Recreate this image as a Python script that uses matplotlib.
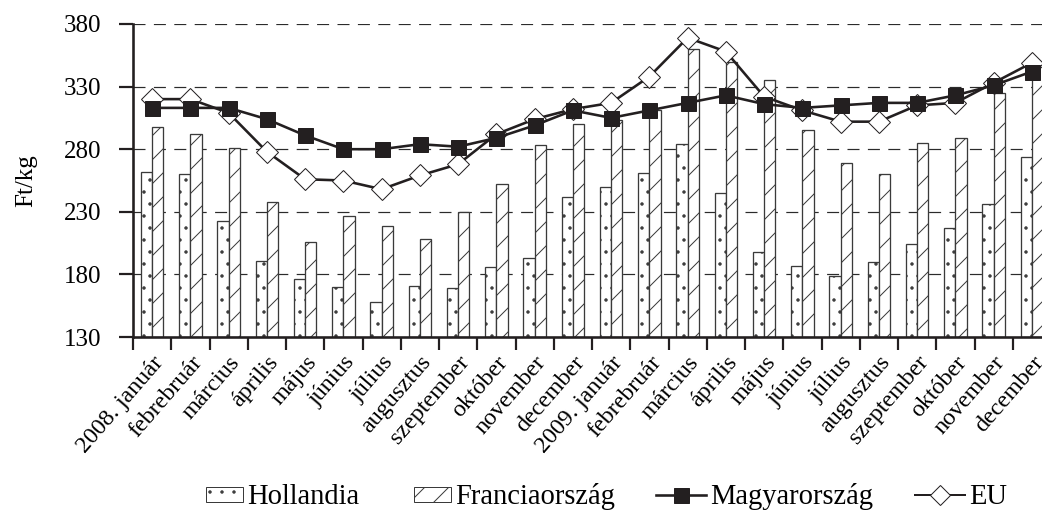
import matplotlib
matplotlib.use("Agg")
import matplotlib.pyplot as plt
import numpy as np
from matplotlib.patches import Patch, Rectangle
from matplotlib.lines import Line2D
from matplotlib.legend_handler import HandlerPatch
from matplotlib.transforms import ScaledTranslation

plt.rcParams['font.family'] = ['Liberation Serif', 'DejaVu Serif']
plt.rcParams['hatch.linewidth'] = 1.0

months = ["2008. január", "febrebruár", "március", "április", "május", "június",
          "július", "augusztus", "szeptember", "október", "november", "december",
          "2009. január", "febrebruár", "március", "április", "május", "június",
          "július", "augusztus", "szeptember", "október", "november", "december"]

hollandia = [262, 260, 223, 191, 176, 170, 158, 171, 169, 186, 193, 242,
             250, 261, 284, 245, 198, 187, 179, 190, 204, 217, 236, 274]
francia = [298, 292, 281, 238, 206, 227, 219, 208, 230, 252, 283, 300,
           303, 311, 360, 350, 335, 295, 269, 260, 285, 289, 325, 346]
magyar = [313, 313, 313, 304, 291, 280, 280, 284, 282, 289, 299, 311,
          305, 311, 317, 323, 316, 313, 315, 317, 317, 323, 331, 342]
eu = [320, 320, 309, 278, 256, 255, 248, 259, 268, 292, 304, 312,
      317, 338, 369, 358, 322, 311, 302, 302, 315, 317, 333, 349]

yticks = [130, 180, 230, 280, 330, 380]

DPI = 72
fig = plt.figure(figsize=(1042 / DPI, 513 / DPI), dpi=DPI)
ax = fig.add_axes([133 / 1042, (513 - 337) / 513, (1051 - 133) / 1042, (337 - 24) / 513])

x = np.arange(len(months))
w = 0.295
edge = '#3a3a3a'
ax.bar(x - w / 2, np.array(hollandia) - 130, width=w, bottom=130, color='white',
       edgecolor=edge, linewidth=1.3, hatch='.', zorder=2)
ax.bar(x + w / 2, np.array(francia) - 130, width=w, bottom=130, color='white',
       edgecolor=edge, linewidth=1.3, hatch='/', zorder=2)

line_col = '#231f20'
ax.plot(x, eu, color=line_col, lw=2.6, marker='D', markersize=15.5,
        markerfacecolor='white', markeredgecolor=line_col, markeredgewidth=1.0, zorder=3)
ax.plot(x, magyar, color=line_col, lw=2.6, marker='s', markersize=15,
        markerfacecolor=line_col, markeredgecolor=line_col, zorder=4)

ax.set_xlim(-0.5, 23.5)
ax.set_ylim(130, 380)
ax.set_yticks(yticks)
ax.set_yticklabels([str(v) for v in yticks], fontsize=25)
for v in yticks[1:]:
    ax.axhline(v, color='#2b2b2b', lw=1.2, dashes=(10, 7), zorder=1)

ax.set_xticks(np.arange(-0.5, 24, 1.0))
ax.set_xticklabels([])
ax.set_xticks(x, minor=True)
ax.set_xticklabels(months, minor=True, fontsize=24, rotation=49, ha='right',
                   va='center', rotation_mode='anchor')
ax.tick_params(axis='x', which='minor', length=0, pad=22)
ax.tick_params(axis='x', which='major', length=13, width=2.2, direction='out', color='#231f20')
ax.tick_params(axis='y', length=14, width=2.2, direction='out', pad=18, color='#231f20')
off = ScaledTranslation(8 / DPI, 0, fig.dpi_scale_trans)
for lab in ax.get_xticklabels(minor=True):
    lab.set_transform(lab.get_transform() + off)

for s in ['top', 'right']:
    ax.spines[s].set_visible(False)
for s in ['left', 'bottom']:
    ax.spines[s].set_linewidth(2.6)
    ax.spines[s].set_color('#231f20')

ax.set_ylabel('Ft/kg', fontsize=25)
ax.yaxis.set_label_coords(-96 / 918, 0.5)


def small_rect(legend, orig_handle, xdescent, ydescent, width, height, fontsize):
    pw, ph = 37, 15
    return Rectangle((-xdescent + width - pw, -ydescent + (height - ph) / 2), pw, ph)


handles = [
    Patch(facecolor='white', edgecolor=edge, hatch='.', label='Hollandia'),
    Patch(facecolor='white', edgecolor=edge, hatch='/', label='Franciaország'),
    Line2D([], [], color=line_col, lw=2.6, marker='s', markersize=15,
           markerfacecolor=line_col, label='Magyarország'),
    Line2D([], [], color=line_col, lw=2.0, marker='D', markersize=14,
           markerfacecolor='white', markeredgecolor=line_col, markeredgewidth=1.0, label='EU'),
]
fig.legend(handles=handles, loc='center', bbox_to_anchor=(600 / 1042, (513 - 497) / 513),
           ncol=4, frameon=False, fontsize=28.5, handlelength=1.75, handleheight=0.55,
           handletextpad=0.15, columnspacing=1.45,
           handler_map={Patch: HandlerPatch(patch_func=small_rect)})

fig.savefig('out.png', dpi=DPI)
